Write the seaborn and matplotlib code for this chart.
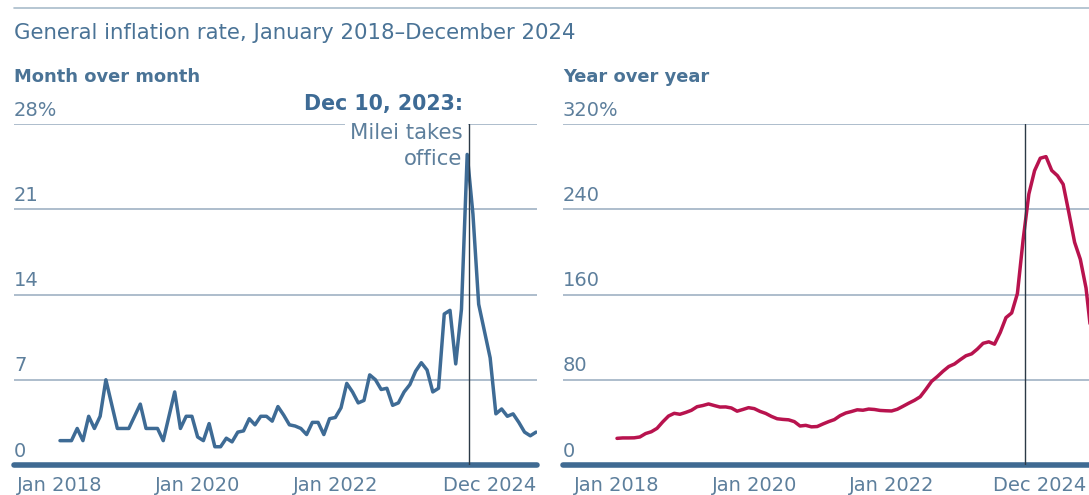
import matplotlib
matplotlib.use("Agg")
import matplotlib.pyplot as plt
import matplotlib.transforms as mtransforms
from matplotlib.lines import Line2D
import numpy as np
import pandas as pd
import seaborn as sns

# ---------------- data ----------------
tick_positions = [0, 24, 48, 83]
tick_labels = ["Jan 2018", "Jan 2020", "Jan 2022", "Dec 2024"]

mom_2018 = [2, 2, 2, 3, 2, 4, 3, 4, 7, 5, 3, 3]
mom_2019 = [3, 4, 5, 3, 3, 3, 2, 4, 6, 3, 4, 4]
mom_2020 = [2.3, 2.0, 3.4, 1.5, 1.5, 2.2, 1.9, 2.7, 2.8, 3.8, 3.3, 4.0]
mom_2021 = [4.0, 3.6, 4.8, 4.1, 3.3, 3.2, 3.0, 2.5, 3.5, 3.5, 2.5, 3.8]
mom_2022 = [3.9, 4.7, 6.7, 6.0, 5.1, 5.3, 7.4, 7.0, 6.2, 6.3, 4.9, 5.1]
mom_2023 = [6.0, 6.6, 7.7, 8.4, 7.8, 6.0, 6.3, 12.4, 12.7, 8.3, 12.8, 25.5]
mom_2024 = [20.6, 13.2, 11.0, 8.8, 4.2, 4.6, 4.0, 4.2, 3.5, 2.7, 2.4, 2.7]

yoy_2018 = [25.0, 25.4, 25.4, 25.5, 26.3, 29.5, 31.2, 34.4, 40.5, 45.9, 48.5, 47.6]
yoy_2019 = [49.3, 51.3, 54.7, 55.8, 57.3, 55.8, 54.4, 54.5, 53.5, 50.5, 52.1, 53.8]
yoy_2020 = [52.9, 50.3, 48.4, 45.6, 43.4, 42.8, 42.4, 40.7, 36.6, 37.2, 35.8, 36.1]
yoy_2021 = [38.5, 40.7, 42.6, 46.3, 48.8, 50.2, 51.8, 51.4, 52.5, 52.1, 51.2, 50.9]
yoy_2022 = [50.7, 52.3, 55.1, 58.0, 60.7, 64.0, 71.0, 78.5, 83.0, 88.0, 92.4, 94.8]
yoy_2023 = [98.8, 102.5, 104.3, 108.8, 114.2, 115.6, 113.4, 124.4, 138.3, 142.7, 160.9, 211.4]
yoy_2024 = [254.2, 276.2, 287.9, 289.4, 276.4, 271.5, 263.4, 236.7, 209.0, 193.0, 166.0, 117.8]

mom_ticks = [0, 7, 14, 21, 28]
mom_tick_labels = ["0", "7", "14", "21", "28%"]
yoy_ticks = [0, 80, 160, 240, 320]
yoy_tick_labels = ["0", "80", "160", "240", "320%"]

milei_month = 71 + 9 / 31  # Dec 10, 2023

mom = mom_2018 + mom_2019 + mom_2020 + mom_2021 + mom_2022 + mom_2023 + mom_2024
yoy = yoy_2018 + yoy_2019 + yoy_2020 + yoy_2021 + yoy_2022 + yoy_2023 + yoy_2024
df = pd.DataFrame({"month": np.arange(len(mom)), "mom": mom, "yoy": yoy})

# ---------------- style ----------------
sns.set_theme(style="white")
plt.rcParams["font.family"] = ["DejaVu Sans"]

TITLE_C = "#4a7396"
LABEL_C = "#5d7f9c"
GRID_C = "#9fb2c3"
BASE_C = "#3f6a92"
MOM_C = "#3e6b95"
YOY_C = "#b8134e"
VLINE_C = "#2c3a47"

W, H = 1089, 495
fig = plt.figure(figsize=(W / 100, H / 100), dpi=100)


def fx(x):
    return x / W


def fy(y):
    return 1 - y / H


top, bottom = 124, 465
ax1 = fig.add_axes([fx(14), fy(bottom), (537 - 14) / W, (bottom - top) / H])
ax2 = fig.add_axes([fx(563), fy(bottom), (1096 - 563) / W, (bottom - top) / H])

# last tick label of the right panel is nudged left so it stays inside the figure
panels = [
    (ax1, "mom", MOM_C, mom_ticks, mom_tick_labels, (-8.02, 83.17), 0.0),
    (ax2, "yoy", YOY_C, yoy_ticks, yoy_tick_labels, (-9.44, 83.74), 1.0),
]

for ax, col, color, yt, ytl, xl, last_nudge in panels:
    sns.lineplot(data=df, x="month", y=col, ax=ax, color=color, lw=2.5, zorder=4)
    ax.set_xlim(*xl)
    ax.set_ylim(yt[0], yt[-1])
    ax.set_yticks(yt)
    ax.set_yticklabels([])
    ax.tick_params(axis="y", length=0)
    ax.yaxis.grid(True, color=GRID_C, lw=1.2, zorder=0.5)
    ax.xaxis.grid(False)
    for s in ax.spines.values():
        s.set_visible(False)
    ax.set_xlabel("")
    ax.set_ylabel("")
    pos = list(tick_positions)
    pos[-1] = pos[-1] - last_nudge
    ax.set_xticks(pos)
    ax.set_xticklabels(tick_labels, fontsize=14, color=LABEL_C)
    ax.get_xticklabels()[-1].set_horizontalalignment("right")
    ax.tick_params(axis="x", length=0, pad=8)
    ax.axhline(yt[0], color=BASE_C, lw=4, zorder=3, clip_on=False)
    ax.axvline(milei_month, color=VLINE_C, lw=1, zorder=5)
    trans = mtransforms.blended_transform_factory(ax.transAxes, ax.transData)
    for v, lab in zip(yt, ytl):
        ax.annotate(lab, xy=(0, v), xycoords=trans, xytext=(0, 6),
                    textcoords="offset points", ha="left", va="baseline",
                    fontsize=14, color=LABEL_C)

# annotation on the left panel
ax1.annotate("Dec 10, 2023:", xy=(milei_month, 28), xycoords="data",
             xytext=(-4.5, 10), textcoords="offset points", ha="right",
             va="baseline", fontsize=14.8, fontweight="bold", color=MOM_C,
             annotation_clip=False)
ax1.annotate("Milei takes\noffice", xy=(milei_month, 28), xycoords="data",
             xytext=(-4.5, 1), textcoords="offset points", ha="right",
             va="top", fontsize=15.3, color=LABEL_C, linespacing=1.4,
             bbox=dict(boxstyle="square,pad=0.25", fc="white", ec="none"),
             zorder=3, annotation_clip=False)

# titles
fig.add_artist(Line2D([fx(14), 1], [fy(8), fy(8)], color="#a9bccb", lw=1.2))
fig.text(fx(14), fy(33), "General inflation rate, January 2018\u2013December 2024",
         ha="left", va="center", fontsize=15.3, color=TITLE_C)
fig.text(fx(14), fy(77), "Month over month", ha="left", va="center",
         fontsize=12.9, fontweight="bold", color=TITLE_C)
fig.text(fx(563), fy(77), "Year over year", ha="left", va="center",
         fontsize=12.9, fontweight="bold", color=TITLE_C)

fig.savefig("out.png", dpi=100)
